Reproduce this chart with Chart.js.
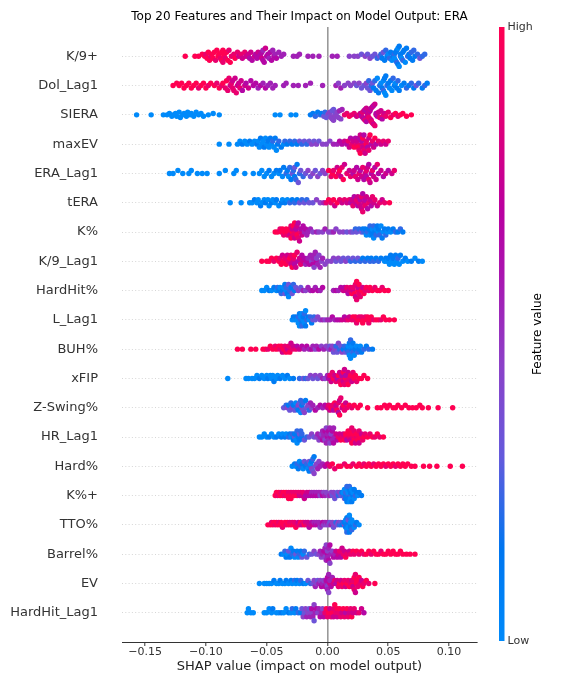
<!DOCTYPE html>
<html>
<head>
<meta charset="utf-8">
<title>SHAP summary: ERA</title>
<script src="https://cdn.jsdelivr.net/npm/chart.js@4.4.0/dist/chart.umd.min.js"></script>
<style>
  html, body { margin: 0; padding: 0; background: #fff; }
  canvas { display: block; }
</style>
</head>
<body>
<canvas id="shapChart" width="576" height="684"></canvas>
<script>
// Feature names, top to bottom
const features = ['K/9+', 'Dol_Lag1', 'SIERA', 'maxEV', 'ERA_Lag1', 'tERA', 'K%', 'K/9_Lag1',
  'HardHit%', 'L_Lag1', 'BUH%', 'xFIP', 'Z-Swing%', 'HR_Lag1', 'Hard%', 'K%+', 'TTO%',
  'Barrel%', 'EV', 'HardHit_Lag1'];

const xTicks = [-0.15, -0.10, -0.05, 0.00, 0.05, 0.10];

// one point = [SHAP value in thousandths, feature value level 0 (low) .. 9 (high)]
const k9Plus = [[-117,9],[-109,9],[-106,9],[-103,9],[-101,9],[-100,8],[-99,9],[-98,9],[-97,9],[-96,8],[-95,9],[-94,9],[-93,9],[-92,8],[-91,9],[-90,9],[-89,9],[-88,8],[-87,9],[-87,9],[-86,9],[-86,8],[-85,9],[-85,9],[-84,8],[-83,9],[-82,9],[-81,8],[-80,9],[-79,8],[-77,8],[-76,9],[-74,8],[-73,7],[-71,8],[-70,7],[-68,8],[-67,7],[-65,7],[-64,6],[-63,7],[-62,6],[-60,7],[-59,6],[-58,6],[-57,7],[-56,6],[-55,6],[-54,7],[-54,6],[-53,6],[-53,5],[-52,6],[-51,7],[-50,6],[-49,6],[-48,5],[-47,6],[-46,6],[-45,5],[-44,6],[-43,5],[-42,6],[-40,5],[-38,5],[-36,5],[-28,5],[-25,5],[-23,5],[-16,5],[-12,5],[-7,5],[4,5],[8,5],[18,4],[22,4],[25,4],[28,3],[31,4],[33,3],[35,4],[37,3],[39,3],[41,2],[43,3],[44,2],[45,1],[46,3],[47,1],[48,2],[49,1],[50,0],[51,2],[52,1],[53,0],[54,1],[55,2],[55,0],[56,1],[56,0],[57,1],[57,2],[58,0],[58,1],[59,1],[59,0],[60,2],[60,1],[61,0],[62,1],[62,2],[63,1],[64,0],[65,1],[66,2],[67,1],[68,1],[69,2],[70,1],[71,2],[72,1],[74,2],[76,3],[78,2],[80,2]];
const dolLag1 = [[-127,9],[-124,9],[-122,9],[-120,9],[-118,9],[-116,9],[-114,9],[-112,9],[-110,9],[-108,9],[-106,8],[-104,9],[-102,9],[-100,9],[-98,8],[-96,9],[-93,9],[-91,8],[-89,9],[-87,8],[-86,9],[-84,8],[-83,9],[-82,8],[-81,8],[-80,7],[-79,8],[-78,8],[-78,7],[-77,8],[-76,7],[-75,8],[-74,7],[-73,7],[-72,8],[-71,7],[-70,6],[-68,7],[-67,6],[-65,7],[-63,6],[-61,6],[-59,6],[-57,5],[-55,6],[-53,5],[-51,6],[-49,5],[-47,5],[-45,5],[-43,5],[-36,5],[-34,5],[-28,5],[-24,5],[-18,5],[-14,5],[-4,5],[7,5],[9,4],[11,5],[14,4],[17,4],[19,4],[22,4],[24,3],[26,4],[28,3],[30,3],[32,4],[33,3],[34,2],[35,3],[36,2],[37,3],[38,1],[39,2],[40,1],[41,0],[42,1],[43,2],[44,0],[45,1],[46,0],[46,2],[47,1],[47,0],[48,1],[48,0],[49,2],[50,1],[51,0],[52,1],[53,0],[54,2],[55,1],[56,0],[57,1],[58,2],[59,1],[61,0],[63,1],[65,2],[67,1],[69,2],[71,1],[73,3],[75,2],[78,1],[80,2],[82,1]];
const siera = [[-157,0],[-145,0],[-135,0],[-132,0],[-130,0],[-128,0],[-127,0],[-125,0],[-124,0],[-122,0],[-121,0],[-119,0],[-118,0],[-116,0],[-115,0],[-113,0],[-112,0],[-110,0],[-108,0],[-106,0],[-104,0],[-102,0],[-98,0],[-94,0],[-89,0],[-43,0],[-39,0],[-30,0],[-26,0],[-14,1],[-12,1],[-10,2],[-8,1],[-6,2],[-5,1],[-3,3],[-2,2],[-1,3],[0,3],[1,4],[2,3],[2,4],[3,4],[4,3],[4,4],[5,3],[5,4],[6,4],[7,3],[7,4],[8,4],[9,4],[10,5],[11,4],[12,5],[14,8],[16,8],[18,9],[20,8],[22,8],[24,7],[26,8],[27,7],[28,6],[29,8],[29,7],[30,7],[30,6],[31,6],[31,8],[32,7],[32,6],[33,8],[33,6],[33,7],[34,7],[34,8],[35,6],[35,8],[35,7],[36,7],[36,6],[36,8],[37,7],[37,8],[38,6],[38,7],[39,7],[39,8],[40,8],[40,6],[41,6],[42,7],[43,8],[44,7],[45,6],[46,8],[47,7],[48,8],[50,8],[52,9],[54,8],[56,9],[58,8],[60,9],[62,9],[65,9],[69,9]];
const maxEV = [[-89,0],[-81,0],[-74,0],[-72,0],[-70,1],[-68,0],[-66,0],[-64,1],[-62,0],[-60,0],[-58,1],[-57,0],[-56,0],[-55,1],[-54,0],[-53,0],[-52,1],[-51,0],[-50,0],[-49,1],[-48,0],[-47,1],[-46,0],[-45,2],[-44,0],[-43,1],[-42,0],[-41,1],[-40,2],[-38,1],[-36,0],[-35,2],[-33,1],[-31,2],[-29,1],[-27,2],[-25,1],[-23,3],[-21,2],[-19,3],[-17,2],[-15,3],[-13,4],[-11,3],[-9,4],[-7,3],[-4,4],[-1,4],[2,4],[5,5],[8,5],[10,6],[12,6],[14,7],[16,6],[17,8],[18,7],[19,6],[20,8],[21,7],[22,9],[23,6],[24,8],[24,7],[25,9],[26,6],[26,8],[27,7],[27,9],[28,8],[28,6],[29,7],[29,9],[30,8],[30,6],[31,7],[32,9],[32,8],[33,6],[34,7],[34,8],[35,9],[36,6],[37,8],[38,7],[39,9],[40,6],[42,8],[44,7],[46,8],[48,7],[50,8]];
const eraLag1 = [[-130,0],[-127,0],[-123,0],[-119,0],[-114,0],[-112,0],[-107,0],[-103,0],[-99,0],[-89,0],[-84,0],[-77,0],[-75,0],[-68,0],[-61,0],[-56,0],[-54,0],[-52,0],[-50,0],[-48,1],[-46,0],[-44,0],[-42,1],[-40,0],[-39,1],[-37,0],[-36,1],[-34,2],[-33,1],[-32,0],[-31,2],[-30,1],[-29,3],[-28,2],[-27,1],[-27,3],[-26,2],[-25,1],[-24,3],[-23,2],[-22,3],[-20,2],[-18,3],[-16,4],[-14,3],[-12,4],[-10,3],[-8,4],[-6,3],[-4,4],[-2,4],[1,9],[3,8],[4,9],[5,8],[7,9],[8,7],[9,8],[10,9],[11,7],[12,8],[13,9],[14,7],[16,8],[18,7],[19,8],[21,6],[22,7],[23,8],[24,6],[25,7],[26,8],[27,6],[28,7],[29,8],[30,6],[31,7],[32,8],[32,6],[33,7],[34,8],[34,6],[35,7],[36,6],[37,8],[38,7],[39,6],[40,7],[41,8],[42,6],[44,7],[46,6],[48,7],[50,6],[53,7],[55,8]];
const tERA = [[-80,0],[-71,0],[-64,0],[-62,0],[-60,1],[-58,0],[-57,0],[-55,1],[-54,0],[-52,0],[-51,1],[-49,0],[-48,0],[-46,1],[-45,0],[-43,0],[-42,1],[-40,0],[-38,1],[-37,0],[-35,1],[-33,0],[-31,2],[-29,1],[-27,2],[-25,1],[-23,3],[-21,2],[-19,3],[-17,2],[-15,3],[-12,3],[-9,4],[-6,4],[-3,5],[-1,8],[1,9],[3,8],[5,9],[6,7],[8,9],[10,8],[12,7],[14,8],[16,7],[18,8],[19,6],[20,7],[21,8],[22,6],[23,7],[24,8],[25,6],[25,7],[26,8],[27,6],[27,7],[28,8],[28,7],[29,6],[29,8],[30,7],[31,6],[31,8],[32,7],[33,6],[34,8],[35,7],[36,6],[37,8],[38,7],[39,8],[41,7],[43,8],[45,7],[47,8],[51,9]];
const kPct = [[-43,9],[-41,9],[-39,8],[-38,9],[-37,9],[-36,8],[-35,9],[-34,9],[-33,8],[-32,9],[-31,9],[-31,7],[-30,8],[-30,9],[-29,9],[-29,7],[-28,8],[-28,9],[-27,7],[-27,9],[-26,8],[-26,6],[-25,9],[-25,7],[-24,8],[-24,6],[-23,7],[-22,8],[-22,6],[-21,7],[-20,6],[-19,5],[-18,6],[-17,5],[-16,5],[-14,5],[-12,4],[-9,5],[-7,4],[-4,4],[-2,5],[1,4],[3,4],[5,5],[7,4],[10,4],[13,4],[16,3],[19,4],[21,3],[23,2],[24,3],[26,2],[28,3],[29,1],[30,2],[31,1],[32,0],[33,2],[34,1],[35,0],[35,2],[36,1],[37,0],[37,1],[38,2],[38,0],[39,1],[40,0],[40,2],[41,1],[42,0],[42,1],[43,2],[44,0],[45,1],[46,0],[47,1],[48,2],[49,0],[50,1],[52,0],[54,1],[56,2],[58,1],[60,2],[62,1]];
const k9Lag1 = [[-54,9],[-50,9],[-48,9],[-46,9],[-44,8],[-42,9],[-40,9],[-39,8],[-38,9],[-37,7],[-36,9],[-35,8],[-34,9],[-33,7],[-32,8],[-31,9],[-30,7],[-30,8],[-29,9],[-28,7],[-28,8],[-27,6],[-27,9],[-26,7],[-25,8],[-24,6],[-23,7],[-22,8],[-21,6],[-20,7],[-19,6],[-18,5],[-17,6],[-16,5],[-15,6],[-14,5],[-13,4],[-12,5],[-12,6],[-11,5],[-11,4],[-10,5],[-9,6],[-9,4],[-8,5],[-7,4],[-6,5],[-5,4],[-4,5],[-2,4],[0,4],[3,4],[5,4],[7,3],[9,4],[11,3],[13,3],[15,4],[17,3],[19,2],[21,3],[23,2],[25,3],[27,2],[29,1],[31,2],[33,1],[35,2],[36,1],[38,2],[40,1],[42,2],[44,1],[47,0],[48,1],[49,0],[50,1],[51,0],[52,1],[53,0],[54,1],[55,0],[56,1],[57,0],[58,2],[59,0],[60,1],[62,0],[64,1],[66,0],[69,1],[72,0],[75,1],[78,0]];
const hardHitPct = [[-54,0],[-52,0],[-50,0],[-48,1],[-46,0],[-44,1],[-42,0],[-41,2],[-40,1],[-39,0],[-38,2],[-37,1],[-36,0],[-35,3],[-35,1],[-34,0],[-34,2],[-33,1],[-32,3],[-32,0],[-31,2],[-30,1],[-29,3],[-28,2],[-27,1],[-26,3],[-24,4],[-22,3],[-20,5],[-18,4],[-16,5],[-14,5],[-12,6],[-10,5],[-8,6],[-6,5],[-4,6],[5,5],[7,6],[9,5],[11,6],[13,7],[14,6],[15,7],[16,8],[17,6],[18,7],[19,8],[20,9],[21,7],[21,8],[22,9],[23,8],[23,7],[24,9],[24,8],[25,9],[25,7],[26,8],[26,9],[27,8],[28,9],[29,7],[30,9],[31,8],[32,9],[34,8],[35,9],[37,9],[39,8],[41,9],[43,9],[45,8],[47,9],[50,9]];
const lLag1 = [[-29,0],[-28,1],[-27,0],[-26,1],[-25,0],[-24,2],[-24,0],[-23,1],[-23,0],[-22,2],[-22,0],[-21,1],[-21,0],[-21,2],[-20,0],[-20,1],[-19,0],[-19,2],[-18,1],[-18,0],[-17,2],[-16,1],[-15,0],[-14,2],[-13,1],[-12,3],[-11,2],[-10,3],[-8,4],[-6,4],[-4,5],[-2,4],[0,5],[2,5],[4,6],[6,5],[8,6],[10,6],[12,7],[14,6],[15,7],[17,8],[18,7],[20,8],[21,9],[22,8],[23,9],[24,8],[25,9],[26,8],[27,9],[28,8],[29,9],[30,9],[31,8],[32,9],[33,9],[34,8],[35,9],[36,9],[38,8],[40,9],[42,9],[44,8],[46,9],[48,9],[51,9],[55,9]];
const buhPct = [[-74,9],[-70,9],[-63,9],[-59,9],[-53,9],[-51,9],[-49,8],[-47,9],[-45,9],[-43,8],[-42,9],[-40,9],[-39,8],[-38,9],[-37,7],[-36,9],[-35,8],[-34,9],[-33,7],[-32,8],[-31,9],[-30,7],[-29,8],[-28,7],[-26,8],[-25,6],[-23,7],[-21,6],[-19,5],[-17,6],[-15,5],[-13,6],[-12,5],[-10,4],[-9,5],[-7,6],[-5,4],[-3,5],[-1,4],[1,4],[2,3],[3,5],[4,4],[5,3],[6,4],[7,2],[8,3],[9,4],[10,2],[11,3],[12,4],[13,1],[14,2],[15,3],[16,1],[17,0],[17,2],[18,1],[18,0],[19,2],[19,0],[20,1],[20,0],[21,2],[21,1],[22,0],[23,1],[24,0],[25,2],[26,1],[27,0],[28,1],[30,2],[32,1],[34,2],[37,1]];
const xFIP = [[-82,0],[-67,0],[-65,0],[-62,0],[-60,0],[-58,0],[-56,1],[-54,0],[-52,0],[-50,0],[-49,1],[-47,0],[-46,0],[-45,0],[-44,1],[-42,0],[-41,0],[-39,1],[-37,0],[-35,0],[-33,1],[-31,0],[-28,1],[-23,2],[-20,3],[-18,2],[-16,3],[-14,4],[-12,3],[-10,4],[-8,3],[-6,4],[-4,5],[-2,4],[0,5],[1,6],[2,8],[3,7],[4,8],[5,9],[6,7],[7,8],[8,6],[9,9],[10,8],[10,7],[11,9],[12,8],[12,6],[13,7],[13,9],[14,8],[14,7],[15,9],[15,6],[16,8],[17,7],[17,9],[18,8],[19,9],[20,7],[21,8],[22,9],[23,9],[24,8],[26,9],[28,9],[30,9],[33,9]];
const zSwingPct = [[-36,3],[-34,2],[-33,4],[-32,1],[-31,3],[-30,2],[-29,4],[-28,1],[-27,3],[-26,0],[-25,2],[-24,4],[-24,1],[-23,3],[-22,0],[-22,2],[-21,4],[-21,1],[-20,3],[-20,2],[-19,4],[-18,1],[-17,3],[-16,4],[-15,2],[-14,5],[-13,4],[-12,5],[-10,6],[-8,5],[-6,6],[-4,5],[-2,6],[0,7],[1,8],[2,7],[3,9],[4,8],[5,6],[6,9],[7,8],[7,7],[8,9],[9,8],[9,6],[10,7],[10,9],[11,8],[12,7],[13,9],[14,8],[15,7],[16,8],[18,9],[20,8],[22,9],[25,9],[27,9],[33,9],[41,9],[44,9],[47,9],[49,9],[51,9],[54,9],[56,9],[58,9],[61,9],[64,9],[67,9],[70,9],[73,9],[76,9],[78,9],[83,9],[91,9],[103,9]];
const hrLag1 = [[-56,0],[-54,0],[-52,0],[-50,0],[-48,1],[-46,0],[-44,0],[-42,1],[-40,0],[-38,1],[-37,0],[-35,1],[-34,0],[-32,2],[-31,1],[-30,0],[-29,2],[-28,1],[-27,3],[-27,1],[-26,0],[-25,2],[-25,0],[-24,1],[-23,3],[-23,1],[-22,2],[-21,1],[-21,2],[-19,3],[-17,2],[-15,3],[-13,4],[-11,3],[-9,4],[-8,5],[-7,4],[-6,5],[-5,4],[-4,6],[-4,5],[-3,5],[-3,5],[-2,4],[-2,6],[-1,5],[-1,4],[0,6],[0,5],[1,5],[1,6],[2,4],[2,5],[3,6],[3,4],[4,5],[4,6],[5,6],[5,5],[6,5],[7,7],[8,6],[9,8],[10,7],[11,9],[12,8],[13,7],[14,9],[15,8],[15,9],[16,6],[17,9],[18,8],[18,9],[19,7],[19,9],[20,9],[20,8],[21,8],[21,9],[22,9],[22,8],[23,7],[24,8],[24,9],[25,9],[26,8],[26,7],[27,9],[28,7],[29,8],[30,9],[31,8],[33,9],[35,8],[37,9],[39,8],[41,9],[43,8],[46,9]];
const hardPct = [[-29,0],[-27,1],[-26,0],[-25,2],[-24,1],[-23,0],[-22,2],[-21,1],[-20,0],[-19,3],[-18,1],[-17,2],[-16,0],[-15,3],[-15,1],[-14,2],[-14,0],[-13,4],[-13,1],[-12,3],[-12,2],[-11,4],[-11,1],[-10,3],[-9,4],[-8,5],[-7,4],[-6,5],[-4,5],[-2,6],[0,7],[2,8],[4,9],[6,8],[9,9],[11,9],[14,8],[16,9],[19,9],[21,8],[24,9],[26,9],[28,9],[30,8],[32,9],[34,9],[36,9],[38,8],[40,9],[42,9],[44,9],[46,9],[48,8],[50,9],[52,9],[54,9],[56,8],[58,9],[60,9],[62,9],[64,9],[66,9],[69,9],[72,9],[79,9],[84,9],[90,9],[101,9],[111,9]];
const kPctPlus = [[-43,9],[-42,9],[-41,8],[-40,9],[-39,9],[-38,8],[-37,9],[-36,9],[-35,8],[-34,9],[-33,9],[-32,8],[-32,9],[-31,9],[-30,8],[-30,9],[-29,9],[-28,8],[-27,9],[-26,8],[-25,9],[-24,8],[-23,7],[-22,8],[-21,7],[-20,8],[-19,7],[-18,6],[-17,7],[-16,6],[-15,7],[-14,6],[-13,5],[-12,6],[-11,5],[-10,6],[-9,5],[-8,6],[-7,5],[-6,4],[-5,5],[-4,6],[-3,4],[-2,5],[-1,4],[1,4],[2,5],[3,4],[4,3],[5,4],[6,3],[7,4],[8,3],[9,2],[10,4],[11,3],[12,1],[13,2],[13,0],[14,3],[14,0],[15,1],[15,2],[15,1],[16,0],[16,1],[16,2],[17,2],[17,0],[17,1],[18,1],[18,0],[18,2],[19,2],[19,1],[19,0],[20,0],[20,1],[21,1],[21,0],[22,0],[22,1],[23,2],[24,1],[25,0],[26,1],[28,1]];
const ttoPct = [[-49,9],[-47,9],[-46,8],[-45,9],[-44,9],[-43,8],[-42,9],[-41,9],[-40,8],[-39,9],[-38,9],[-37,8],[-36,9],[-35,9],[-34,8],[-33,9],[-32,9],[-31,8],[-30,9],[-29,8],[-28,9],[-27,8],[-26,9],[-25,8],[-24,7],[-23,8],[-22,9],[-21,7],[-20,8],[-19,9],[-18,7],[-17,8],[-16,7],[-15,6],[-14,7],[-13,6],[-12,7],[-11,5],[-10,6],[-9,5],[-8,6],[-7,5],[-6,4],[-5,5],[-4,6],[-3,4],[-2,5],[-1,4],[0,5],[1,4],[2,3],[3,5],[4,4],[5,3],[6,4],[7,2],[8,3],[9,4],[10,2],[11,3],[12,1],[13,2],[14,4],[14,1],[15,1],[15,0],[16,0],[16,1],[16,2],[17,2],[17,1],[17,0],[17,3],[18,0],[18,2],[18,1],[18,0],[19,1],[19,0],[19,1],[20,0],[20,2],[21,1],[21,0],[22,0],[23,2],[24,1],[26,0]];
const barrelPct = [[-38,1],[-36,0],[-35,2],[-34,1],[-33,0],[-32,3],[-31,1],[-30,0],[-29,2],[-28,1],[-27,0],[-26,3],[-25,1],[-24,0],[-23,2],[-22,1],[-21,3],[-20,0],[-19,2],[-17,3],[-15,2],[-13,3],[-11,4],[-9,3],[-7,4],[-6,5],[-5,4],[-4,5],[-3,6],[-2,4],[-2,5],[-1,5],[-1,4],[0,6],[0,4],[0,5],[1,5],[1,6],[2,6],[2,4],[3,5],[4,4],[5,6],[6,5],[7,7],[8,6],[9,7],[10,8],[11,6],[12,7],[13,8],[14,7],[15,9],[16,8],[18,7],[19,8],[21,9],[22,8],[24,9],[26,8],[28,9],[30,8],[32,9],[34,9],[36,8],[38,9],[40,9],[42,9],[44,8],[46,9],[48,9],[50,9],[52,9],[54,9],[56,9],[58,9],[60,9],[62,9],[65,9],[68,9],[72,9]];
const ev = [[-56,0],[-52,0],[-50,0],[-48,0],[-46,0],[-44,1],[-42,0],[-40,0],[-39,1],[-37,0],[-35,0],[-34,1],[-32,0],[-30,1],[-29,0],[-27,2],[-26,0],[-25,1],[-23,0],[-22,2],[-20,1],[-18,0],[-16,3],[-14,2],[-12,3],[-11,4],[-10,5],[-9,4],[-8,3],[-7,5],[-6,4],[-5,6],[-4,5],[-3,4],[-2,6],[-1,5],[-1,6],[0,4],[0,6],[0,5],[1,5],[1,4],[2,7],[2,5],[3,6],[4,5],[5,7],[6,8],[7,6],[8,7],[9,8],[10,9],[11,7],[12,8],[13,9],[14,8],[15,7],[16,9],[17,8],[18,9],[19,8],[20,7],[20,9],[21,9],[21,8],[21,7],[22,9],[22,8],[23,8],[23,7],[24,9],[24,9],[25,8],[26,9],[27,8],[28,7],[29,9],[30,8],[32,9],[34,8],[39,9]];
const hardHitLag1 = [[-66,0],[-65,0],[-63,0],[-61,0],[-52,0],[-50,0],[-48,0],[-46,0],[-45,1],[-42,0],[-40,0],[-38,1],[-36,0],[-34,0],[-32,1],[-30,0],[-29,2],[-27,0],[-26,1],[-24,2],[-22,1],[-21,3],[-20,4],[-19,3],[-18,4],[-17,5],[-16,4],[-15,3],[-14,5],[-13,4],[-13,6],[-12,5],[-11,4],[-11,3],[-10,5],[-9,6],[-8,4],[-7,5],[-6,6],[-5,5],[-4,4],[-3,6],[-2,8],[-1,9],[0,8],[1,9],[2,7],[3,8],[4,9],[5,8],[5,7],[6,9],[7,8],[8,9],[8,7],[9,8],[10,9],[11,8],[12,7],[13,9],[14,8],[15,6],[16,9],[17,8],[18,7],[19,8],[20,9],[21,7],[22,8],[24,7],[26,8],[28,7],[30,6]];

const rows = [k9Plus, dolLag1, siera, maxEV, eraLag1, tERA, kPct, k9Lag1, hardHitPct, lLag1,
  buhPct, xFIP, zSwingPct, hrLag1, hardPct, kPctPlus, ttoPct, barrelPct, ev, hardHitLag1];

// blue -> purple -> red, like the shap colour map
const colorStops = [
  [0.00, [0, 138, 250]],
  [0.15, [0, 118, 240]],
  [0.30, [100, 90, 220]],
  [0.45, [140, 65, 200]],
  [0.60, [170, 20, 175]],
  [0.70, [185, 0, 160]],
  [0.85, [225, 0, 120]],
  [1.00, [255, 0, 82]]
];

function colorAt(t) {
  for (let i = 1; i < colorStops.length; i++) {
    const [t1, c1] = colorStops[i];
    const [t0, c0] = colorStops[i - 1];
    if (t <= t1) {
      const f = (t - t0) / (t1 - t0);
      const c = c0.map((v, k) => Math.round(v + (c1[k] - v) * f));
      return `rgb(${c[0]},${c[1]},${c[2]})`;
    }
  }
  return 'rgb(255,0,82)';
}

// vertical jitter of a beeswarm: points sharing a bin are stacked up/down
function swarmOffsets(xs, nbins, rowHeight) {
  const lo = Math.min(...xs), hi = Math.max(...xs);
  const bin = xs.map(x => Math.round(nbins * (x - lo) / (hi - lo + 1e-8)));
  const order = xs.map((_, i) => i).sort((a, b) => bin[a] - bin[b] || xs[a] - xs[b] || a - b);
  const ys = new Array(xs.length).fill(0);
  let layer = 0, last = -1;
  for (const i of order) {
    if (bin[i] !== last) layer = 0;
    ys[i] = Math.ceil(layer / 2) * ((layer % 2) * 2 - 1);
    layer++;
    last = bin[i];
  }
  const m = Math.max(...ys.map(y => y + 1));
  return ys.map(y => y * 0.9 * rowHeight / m);
}

const n = features.length;
const datasets = rows.map((pts, i) => {
  const xs = pts.map(p => p[0] / 1000);
  const off = swarmOffsets(xs, 34, 0.46);
  return {
    label: features[i],
    data: xs.map((x, j) => ({ x: x, y: (n - 1 - i) + off[j] })),
    pointBackgroundColor: pts.map(p => colorAt(p[1] / 9)),
    pointRadius: 2.7,
    pointBorderWidth: 0,
    pointHoverRadius: 2.7
  };
});

const decorations = {
  id: 'decorations',
  afterDraw(chart) {
    const ctx = chart.ctx;
    const area = chart.chartArea;
    const top = area.top, bottom = area.bottom - 1;
    ctx.save();
    // title over the plot area
    ctx.fillStyle = '#000';
    ctx.font = '12px "DejaVu Sans"';
    ctx.textAlign = 'center';
    ctx.textBaseline = 'middle';
    ctx.fillText('Top 20 Features and Their Impact on Model Output: ERA', (area.left + area.right) / 2, 17);
    // colour bar
    const x = 499, w = 5.5;
    const g = ctx.createLinearGradient(0, bottom, 0, top);
    colorStops.forEach(([t, c]) => g.addColorStop(t, `rgb(${c[0]},${c[1]},${c[2]})`));
    ctx.fillStyle = g;
    ctx.fillRect(x, top, w, bottom - top);
    ctx.fillStyle = '#333333';
    ctx.font = '11px "DejaVu Sans"';
    ctx.textAlign = 'left';
    ctx.fillText('High', x + w + 3, top);
    ctx.fillText('Low', x + w + 3, bottom);
    ctx.font = '12px "DejaVu Sans"';
    ctx.fillStyle = '#000';
    ctx.translate(538, (top + bottom) / 2);
    ctx.rotate(-Math.PI / 2);
    ctx.textAlign = 'center';
    ctx.fillText('Feature value', 0, 0);
    ctx.restore();
  }
};

new Chart(document.getElementById('shapChart'), {
  type: 'scatter',
  data: { datasets: datasets },
  options: {
    responsive: false,
    animation: false,
    layout: { padding: { left: 0, right: 99, top: 27, bottom: 0 } },
    plugins: {
      legend: { display: false },
      tooltip: { enabled: false }
    },
    scales: {
      x: {
        type: 'linear',
        min: -0.169,
        max: 0.123,
        z: 1,
        afterBuildTicks: s => { s.ticks = xTicks.map(v => ({ value: v })); },
        afterFit: s => { s.height = 42; s.paddingLeft = 0; s.paddingRight = 0; },
        ticks: {
          color: '#333333',
          font: { family: 'DejaVu Sans', size: 11 },
          padding: 0,
          maxRotation: 0,
          callback: v => v.toFixed(2).replace('-', '\u2212')
        },
        grid: {
          color: c => (c.tick && c.tick.value === 0) ? '#999999' : 'rgba(0,0,0,0)',
          lineWidth: 1.6,
          drawTicks: true,
          tickLength: 4,
          tickColor: '#333333',
          tickWidth: 1
        },
        border: { display: true, color: '#333333', width: 1 },
        title: {
          display: true,
          text: 'SHAP value (impact on model output)',
          color: '#222',
          font: { family: 'DejaVu Sans', size: 13 },
          padding: { top: 4, bottom: 10 }
        }
      },
      y: {
        type: 'linear',
        min: -1,
        max: n,
        afterBuildTicks: s => { s.ticks = features.map((_, i) => ({ value: i })); },
        afterFit: s => { s.width = 122; s.paddingTop = 0; s.paddingBottom = 0; },
        ticks: {
          color: '#333333',
          font: { family: 'DejaVu Sans', size: 13 },
          padding: 24,
          autoSkip: false,
          callback: v => features[n - 1 - v]
        },
        grid: {
          color: '#cccccc',
          lineWidth: 0.8,
          drawTicks: false
        },
        border: { display: false, dash: [1, 2.3] }
      }
    }
  },
  plugins: [decorations]
});
</script>
</body>
</html>
